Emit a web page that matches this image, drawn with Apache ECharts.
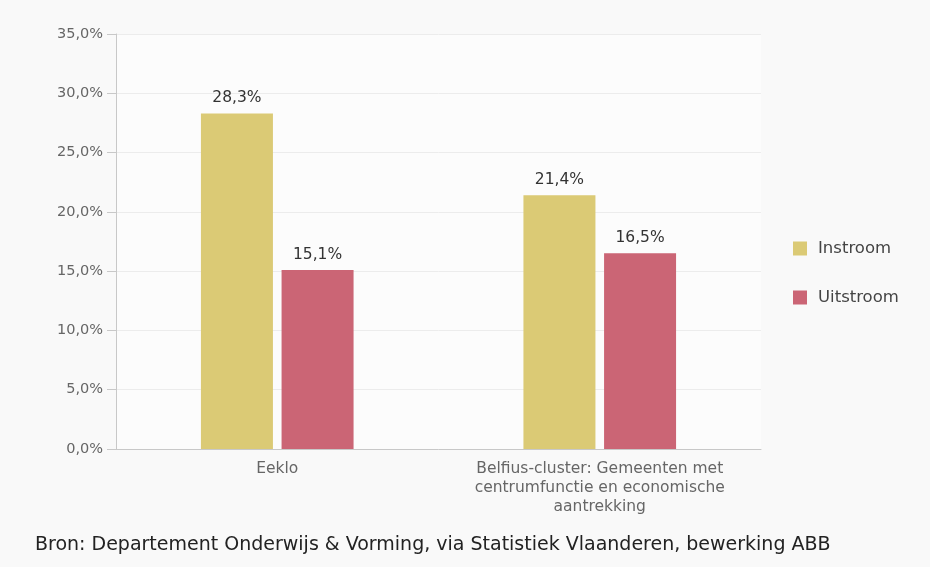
<!DOCTYPE html>
<html><head><meta charset="utf-8">
<script src="https://cdn.jsdelivr.net/npm/echarts@6/dist/echarts.min.js"></script>
<style>html,body{margin:0;padding:0;background:#f9f9f9;}#c{width:930px;height:567px;}</style>
</head><body><div id="c"></div>
<script>
const categories = ['Eeklo', 'Belfius-cluster: Gemeenten met\ncentrumfunctie en economische\naantrekking'];
const instroom = [28.3, 21.4];
const uitstroom = [15.1, 16.5];
const seriesNames = ['Instroom', 'Uitstroom'];
const colors = ['#dbca75', '#cb6575'];
const sourceText = 'Bron: Departement Onderwijs & Vorming, via Statistiek Vlaanderen, bewerking ABB';
const fmt = v => v.toFixed(1).replace('.', ',') + '%';
const chart = echarts.init(document.getElementById('c'));
const F = '"DejaVu Sans", Verdana, sans-serif';
chart.setOption({
  backgroundColor: '#f9f9f9',
  animation: false,
  textStyle: {fontFamily: F},
  grid: {left: 116, top: 34, width: 645, height: 415, backgroundColor: '#fcfcfc', show: true, borderWidth: 0},
  legend: {
    orient: 'vertical', left: 788, top: 235, itemWidth: 14, itemHeight: 14, itemGap: 32,
    icon: 'rect', textStyle: {fontSize: 16.5, color: '#444', fontFamily: F, padding: [0, 0, 0, 6]},
    data: seriesNames
  },
  graphic: [{type: 'text', left: 35, top: 536, style: {text: sourceText, fontSize: 19, fill: '#222', fontFamily: F}}],
  xAxis: {
    type: 'category', data: categories,
    axisLine: {lineStyle: {color: '#c8c8c8'}}, axisTick: {show: false},
    axisLabel: {fontSize: 15.5, color: '#666', lineHeight: 19, margin: 10, interval: 0}
  },
  yAxis: {
    type: 'value', min: 0, max: 35, interval: 5,
    axisLine: {show: true, lineStyle: {color: '#c8c8c8'}},
    axisTick: {show: true, length: 9, lineStyle: {color: '#c8c8c8'}},
    splitLine: {lineStyle: {color: '#ececec'}},
    axisLabel: {fontSize: 14.5, color: '#666', margin: 13, formatter: v => fmt(v)}
  },
  series: [
    {name: seriesNames[0], type: 'bar', data: instroom, barWidth: 72, barGap: '12%', itemStyle: {color: colors[0]},
     label: {show: true, position: 'top', distance: 7, fontSize: 15.5, color: '#333', formatter: p => fmt(p.value)}},
    {name: seriesNames[1], type: 'bar', data: uitstroom, barWidth: 72, itemStyle: {color: colors[1]},
     label: {show: true, position: 'top', distance: 7, fontSize: 15.5, color: '#333', formatter: p => fmt(p.value)}}
  ]
});
</script></body></html>
